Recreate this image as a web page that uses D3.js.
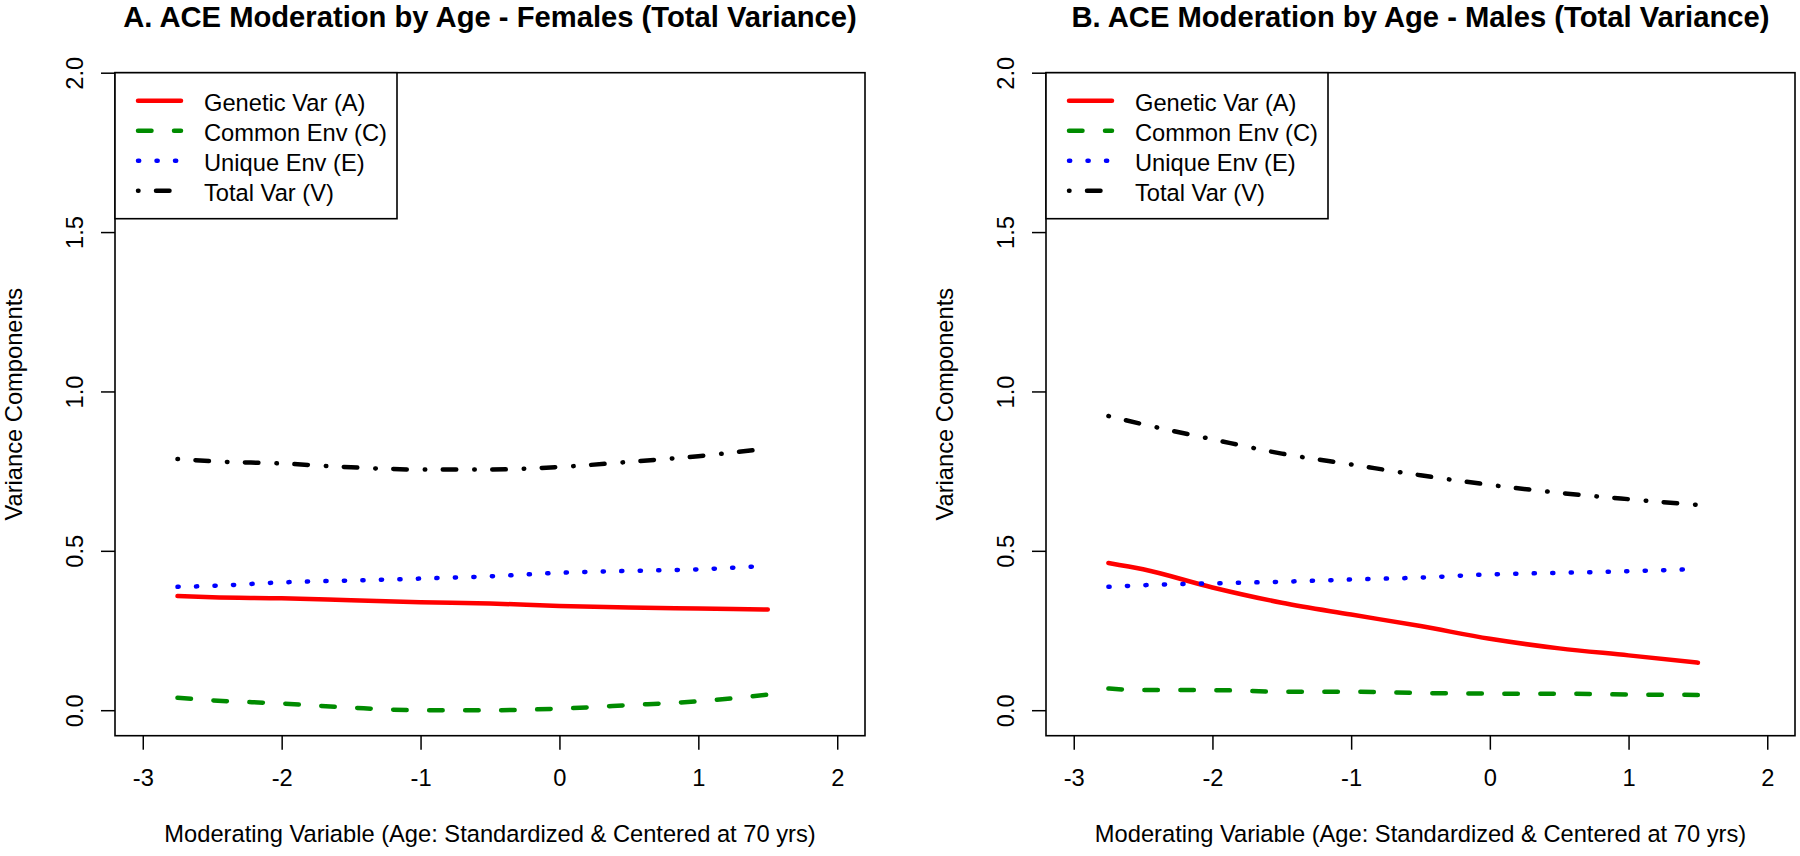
<!DOCTYPE html>
<html>
<head>
<meta charset="utf-8">
<script src="https://cdn.jsdelivr.net/npm/d3@7"></script>
<style>
  html, body { margin: 0; padding: 0; background: #fff; }
  svg { display: block; }
  text { font-family: "Liberation Sans", Arial, sans-serif; fill: #000; }
</style>
</head>
<body>
<svg id="chart" width="1800" height="856"></svg>
<script>
// ---------------- data ----------------
const ageValues = [-2.75, -2.5, -2, -1.5, -1, -0.5, 0, 0.5, 1, 1.5];

const femaleA = [0.358, 0.354, 0.351, 0.345, 0.339, 0.335, 0.327, 0.322, 0.319, 0.316];
const femaleC = [0.039, 0.031, 0.021, 0.008, 0.000, 0.000, 0.005, 0.016, 0.028, 0.049];
const femaleE = [0.387, 0.390, 0.401, 0.407, 0.413, 0.420, 0.431, 0.437, 0.442, 0.453];
const femaleV = [0.788, 0.781, 0.774, 0.762, 0.755, 0.755, 0.763, 0.779, 0.797, 0.821];

const maleA = [0.462, 0.442, 0.385, 0.337, 0.300, 0.264, 0.224, 0.194, 0.172, 0.149];
const maleC = [0.068, 0.063, 0.063, 0.058, 0.058, 0.054, 0.052, 0.052, 0.049, 0.048];
const maleE = [0.387, 0.392, 0.398, 0.403, 0.410, 0.416, 0.426, 0.431, 0.436, 0.443];
const maleV = [0.923, 0.897, 0.850, 0.805, 0.771, 0.737, 0.707, 0.682, 0.662, 0.644];

const seriesLabels = ["Genetic Var (A)", "Common Env (C)", "Unique Env (E)", "Total Var (V)"];
const xTicks = [-3, -2, -1, 0, 1, 2];
const yTicks = [0, 0.5, 1.0, 1.5, 2.0];
const panelTitles = [
  "A. ACE Moderation by Age - Females (Total Variance)",
  "B. ACE Moderation by Age - Males (Total Variance)"
];
const xAxisTitle = "Moderating Variable (Age: Standardized & Centered at 70 yrs)";
const yAxisTitle = "Variance Components";

// ---------------- styles ----------------
const seriesStyles = [
  { color: "#FF0000", dash: null },
  { color: "#008B00", dash: "13.5,22.5" },
  { color: "#0000FF", dash: "1.2,17.3" },
  { color: "#000000", dash: "0.5,17.5,13.5,18" }
];
const LW = 4.5;
const FS = 23.7;

const svg = d3.select("#chart");

const panels = [
  { left: 115, right: 865, title: panelTitles[0], data: [femaleA, femaleC, femaleE, femaleV] },
  { left: 1046, right: 1795, title: panelTitles[1], data: [maleA, maleC, maleE, maleV] }
];
const plotTop = 72.7, plotBottom = 735.7;

panels.forEach(p => {
  const x = d3.scaleLinear().domain([-3.2, 2.2]).range([p.left, p.right]);
  const y = d3.scaleLinear().domain([-0.08, 2.0]).range([plotBottom, plotTop]);
  const g = svg.append("g");

  // lines
  const line = d3.line()
    .x((d, i) => x(ageValues[i]))
    .y(d => y(d))
    .curve(d3.curveMonotoneX);

  p.data.forEach((vals, k) => {
    const st = seriesStyles[k];
    g.append("path")
      .datum(vals)
      .attr("d", line)
      .attr("fill", "none")
      .attr("stroke", st.color)
      .attr("stroke-width", LW)
      .attr("stroke-linecap", "round")
      .attr("stroke-linejoin", "round")
      .attr("stroke-dasharray", st.dash);
  });

  // x axis
  const xa = g.append("g")
    .attr("transform", `translate(0,${plotBottom})`)
    .call(d3.axisBottom(x).tickValues(xTicks).tickSize(14).tickPadding(19)
      .tickFormat(d => String(d).replace("\u2212", "-")));
  xa.select(".domain").remove();
  xa.selectAll("line").attr("stroke", "#000").attr("stroke-width", 1.5);
  xa.selectAll("text").attr("font-size", FS).attr("font-family", "Liberation Sans, Arial, sans-serif").attr("fill", "#000");

  // y axis
  const ya = g.append("g")
    .attr("transform", `translate(${p.left},0)`)
    .call(d3.axisLeft(y).tickValues(yTicks).tickSize(14).tickFormat(d3.format(".1f")));
  ya.select(".domain").remove();
  ya.selectAll("line").attr("stroke", "#000").attr("stroke-width", 1.5);
  ya.selectAll("text")
    .attr("x", null).attr("dy", null)
    .attr("text-anchor", "middle")
    .attr("transform", "translate(-32,0) rotate(-90)")
    .attr("font-size", FS).attr("font-family", "Liberation Sans, Arial, sans-serif").attr("fill", "#000");

  // frame
  g.append("rect")
    .attr("x", p.left).attr("y", plotTop)
    .attr("width", p.right - p.left).attr("height", plotBottom - plotTop)
    .attr("fill", "none").attr("stroke", "#000").attr("stroke-width", 1.6);

  // titles
  g.append("text")
    .attr("x", (p.left + p.right) / 2).attr("y", 27)
    .attr("text-anchor", "middle")
    .attr("font-size", 29.2).attr("font-weight", "bold")
    .text(p.title);

  g.append("text")
    .attr("x", (p.left + p.right) / 2).attr("y", 842)
    .attr("text-anchor", "middle")
    .attr("font-size", FS)
    .text(xAxisTitle);

  g.append("text")
    .attr("transform", `translate(${p.left - 93},${(plotTop + plotBottom) / 2}) rotate(-90)`)
    .attr("text-anchor", "middle")
    .attr("font-size", FS)
    .text(yAxisTitle);

  // legend
  const lg = g.append("g");
  lg.append("rect")
    .attr("x", p.left).attr("y", plotTop)
    .attr("width", 282).attr("height", 146)
    .attr("fill", "#fff").attr("stroke", "#000").attr("stroke-width", 1.6);
  seriesLabels.forEach((lab, k) => {
    const ry = 100.7 + k * 30;
    const st = seriesStyles[k];
    lg.append("line")
      .attr("x1", p.left + 23).attr("x2", p.left + 66)
      .attr("y1", ry).attr("y2", ry)
      .attr("stroke", st.color).attr("stroke-width", LW)
      .attr("stroke-linecap", "round")
      .attr("stroke-dasharray", st.dash);
    lg.append("text")
      .attr("x", p.left + 89).attr("y", ry + 10)
      .attr("font-size", FS)
      .text(lab);
  });
});
</script>
</body>
</html>
